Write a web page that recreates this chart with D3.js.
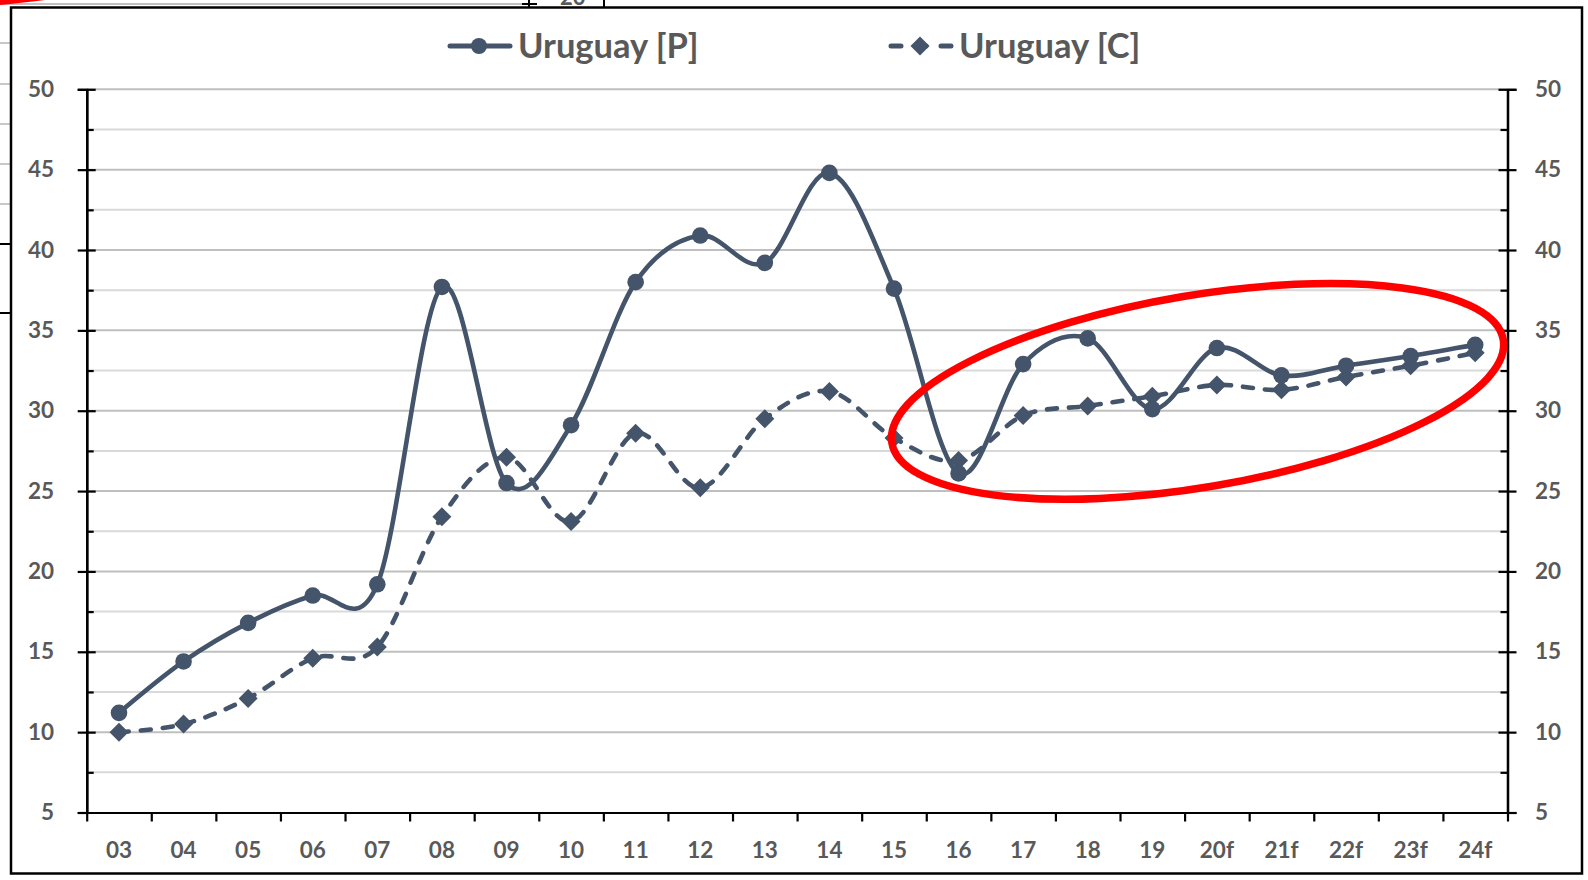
<!DOCTYPE html>
<html>
<head>
<meta charset="utf-8">
<script src="https://cdn.jsdelivr.net/npm/d3@7"></script>
<style>
  html, body { margin: 0; padding: 0; background: #fff; }
  svg { display: block; }
</style>
</head>
<body>
<script>
// chart data
let categories = ["03", "04", "05", "06", "07", "08", "09", "10", "11", "12", "13",
    "14", "15", "16", "17", "18", "19", "20f", "21f", "22f", "23f", "24f"];
let uruguayP = [11.2, 14.4, 16.8, 18.5, 19.2, 37.7, 25.5, 29.1, 38.0, 40.9, 39.2,
    44.8, 37.6, 26.1, 32.9, 34.5, 30.1, 33.9, 32.2, 32.8, 33.4, 34.1];
let uruguayC = [10.0, 10.5, 12.1, 14.6, 15.3, 23.4, 27.1, 23.1, 28.6, 25.2, 29.5,
    31.2, 28.3, 26.9, 29.7, 30.3, 30.9, 31.6, 31.3, 32.1, 32.8, 33.6];
let seriesNames = ["Uruguay [P]", "Uruguay [C]"];
let majorTicks = [5, 10, 15, 20, 25, 30, 35, 40, 45, 50];
let minorTicks = [7.5, 12.5, 17.5, 22.5, 27.5, 32.5, 37.5, 42.5, 47.5];

function main() {
    let W = 1588, H = 880;
    let left = 86.7, right = 1507.5, top = 89.3, bottom = 812.5;
    let lineColor = "#44546a";
    let textColor = "#595959";
    let font = "Lato, 'Open Sans', sans-serif";

    let svg = d3.select("body").append("svg")
        .attr("width", W)
        .attr("height", H);

    // leftovers of the sheet behind the chart
    let bg = svg.append("g");
    bg.append("line").attr("x1", 0).attr("x2", 530).attr("y1", 4).attr("y2", 4)
        .attr("stroke", "#c0c0c0").attr("stroke-width", 2);
    bg.append("line").attr("x1", 522).attr("x2", 537).attr("y1", 4).attr("y2", 4)
        .attr("stroke", "#000").attr("stroke-width", 2);
    bg.append("line").attr("x1", 529).attr("x2", 529).attr("y1", 0).attr("y2", 7)
        .attr("stroke", "#000").attr("stroke-width", 2);
    bg.append("text").attr("x", 560).attr("y", 5).text("20")
        .attr("font-family", font).attr("font-weight", "bold").attr("font-size", 22)
        .attr("fill", textColor);
    bg.append("line").attr("x1", 604).attr("x2", 604).attr("y1", 0).attr("y2", 7)
        .attr("stroke", "#000").attr("stroke-width", 2);
    bg.append("path").attr("d", "M0,5 Q20,3 45,0 L0,0 Z").attr("fill", "#ff0000");
    [43, 84, 124, 164, 204].forEach(function(yy) {
        bg.append("line").attr("x1", 0).attr("x2", 10).attr("y1", yy).attr("y2", yy)
            .attr("stroke", "#c8c8c8").attr("stroke-width", 2);
    });
    [244, 313].forEach(function(yy) {
        bg.append("line").attr("x1", 0).attr("x2", 10).attr("y1", yy).attr("y2", yy)
            .attr("stroke", "#000").attr("stroke-width", 2);
    });

    // chart frame
    svg.append("rect")
        .attr("x", 11).attr("y", 7.5)
        .attr("width", 1571).attr("height", 866)
        .attr("fill", "#fff")
        .attr("stroke", "#000")
        .attr("stroke-width", 2.5);

    let x = d3.scaleBand().domain(categories).range([left, right]);
    let xEdge = d3.scaleLinear().domain([0, categories.length]).range([left, right]);
    let y = d3.scaleLinear().domain([5, 50]).range([bottom, top]);

    // gridlines
    svg.append("g").selectAll("line")
        .data(minorTicks)
        .enter().append("line")
        .attr("x1", left).attr("x2", right)
        .attr("y1", d => y(d)).attr("y2", d => y(d))
        .attr("stroke", "#d9d9d9").attr("stroke-width", 2);
    svg.append("g").selectAll("line")
        .data(majorTicks.filter(d => d > 5))
        .enter().append("line")
        .attr("x1", left).attr("x2", right)
        .attr("y1", d => y(d)).attr("y2", d => y(d))
        .attr("stroke", "#bfbfbf").attr("stroke-width", 2);

    function styleAxis(g) {
        g.select(".domain").attr("stroke", "#000").attr("stroke-width", 2.2);
        g.selectAll(".tick line").attr("stroke", "#000").attr("stroke-width", 2.2);
        g.selectAll("text")
            .attr("font-family", font)
            .attr("font-weight", "bold")
            .attr("font-size", 22.5)
            .attr("fill", textColor);
    }

    // left axis: labels + outer half of major ticks
    svg.append("g").attr("transform", "translate(" + left + ",0)")
        .call(d3.axisLeft(y).tickValues(majorTicks).tickSize(9).tickPadding(23.7)
            .tickFormat(d3.format("d")))
        .call(styleAxis);
    svg.append("g").attr("transform", "translate(" + left + ",0)")
        .call(d3.axisRight(y).tickValues(majorTicks.filter(d => d > 5)).tickSize(9)
            .tickSizeOuter(0).tickFormat(""))
        .call(styleAxis);
    svg.append("g").attr("transform", "translate(" + left + ",0)")
        .call(d3.axisRight(y).tickValues(minorTicks).tickSize(7).tickSizeOuter(0).tickFormat(""))
        .call(styleAxis);

    // right axis
    svg.append("g").attr("transform", "translate(" + right + ",0)")
        .call(d3.axisRight(y).tickValues(majorTicks).tickSize(9).tickPadding(18.5)
            .tickFormat(d3.format("d")))
        .call(styleAxis);
    svg.append("g").attr("transform", "translate(" + right + ",0)")
        .call(d3.axisLeft(y).tickValues(majorTicks.filter(d => d > 5)).tickSize(9)
            .tickSizeOuter(0).tickFormat(""))
        .call(styleAxis);
    svg.append("g").attr("transform", "translate(" + right + ",0)")
        .call(d3.axisLeft(y).tickValues(minorTicks).tickSize(7).tickSizeOuter(0).tickFormat(""))
        .call(styleAxis);

    // bottom axis: ticks on category edges, labels centred
    svg.append("g").attr("transform", "translate(0," + bottom + ")")
        .call(d3.axisBottom(xEdge).tickValues(d3.range(categories.length + 1))
            .tickSize(9).tickSizeOuter(0).tickFormat(""))
        .call(styleAxis);
    let xLabels = svg.append("g").attr("transform", "translate(0," + bottom + ")")
        .call(d3.axisBottom(x).tickSize(0).tickSizeOuter(0))
        .call(styleAxis);
    xLabels.select(".domain").remove();
    xLabels.selectAll("text").attr("dy", 0).attr("y", 45.2);

    // smoothed series
    let curve = d3.curveCardinal.tension(0);
    let line = d3.line()
        .x((d, i) => x(categories[i]) + x.bandwidth() / 2)
        .y(d => y(d))
        .curve(curve);

    let diamond = function(s) {
        return "M0," + (-s) + "L" + s + ",0L0," + s + "L" + (-s) + ",0Z";
    };

    svg.append("path")
        .attr("d", line(uruguayC))
        .attr("fill", "none")
        .attr("stroke", lineColor)
        .attr("stroke-width", 4.6)
        .attr("stroke-linecap", "round")
        .attr("stroke-dasharray", "10,12");
    svg.append("g").selectAll("path")
        .data(uruguayC)
        .enter().append("path")
        .attr("transform", (d, i) => "translate(" + (x(categories[i]) + x.bandwidth() / 2) + "," + y(d) + ")")
        .attr("d", diamond(9.5))
        .attr("fill", lineColor);

    svg.append("path")
        .attr("d", line(uruguayP))
        .attr("fill", "none")
        .attr("stroke", lineColor)
        .attr("stroke-width", 4.6)
        .attr("stroke-linecap", "round");
    svg.append("g").selectAll("circle")
        .data(uruguayP)
        .enter().append("circle")
        .attr("cx", (d, i) => x(categories[i]) + x.bandwidth() / 2)
        .attr("cy", d => y(d))
        .attr("r", 8.3)
        .attr("fill", lineColor);

    // legend
    let legend = svg.append("g");
    let legendItems = [
        {name: seriesNames[0], x0: 448, dash: null, marker: "circle"},
        {name: seriesNames[1], x0: 889, dash: "10,15", marker: "diamond"}
    ];
    legendItems.forEach(function(item) {
        let g = legend.append("g").attr("transform", "translate(" + item.x0 + ",46)");
        g.append("line")
            .attr("x1", 2).attr("x2", 62)
            .attr("stroke", lineColor)
            .attr("stroke-width", 5)
            .attr("stroke-linecap", "round")
            .attr("stroke-dasharray", item.dash);
        if (item.marker === "circle") {
            g.append("circle").attr("cx", 31).attr("r", 8).attr("fill", lineColor);
        } else {
            g.append("path").attr("transform", "translate(31,0)").attr("d", diamond(9.5))
                .attr("fill", lineColor);
        }
        g.append("text")
            .attr("x", 70).attr("y", 12)
            .attr("font-family", font)
            .attr("font-weight", "bold")
            .attr("font-size", 34.5)
            .attr("fill", textColor)
            .text(item.name);
    });

    // hand-drawn red ring
    svg.append("ellipse")
        .attr("transform", "translate(1197.6,391.4) rotate(-9.6)")
        .attr("rx", 310).attr("ry", 96)
        .attr("fill", "none")
        .attr("stroke", "#ff0000")
        .attr("stroke-width", 7.5);
}

main();
</script>
</body>
</html>
